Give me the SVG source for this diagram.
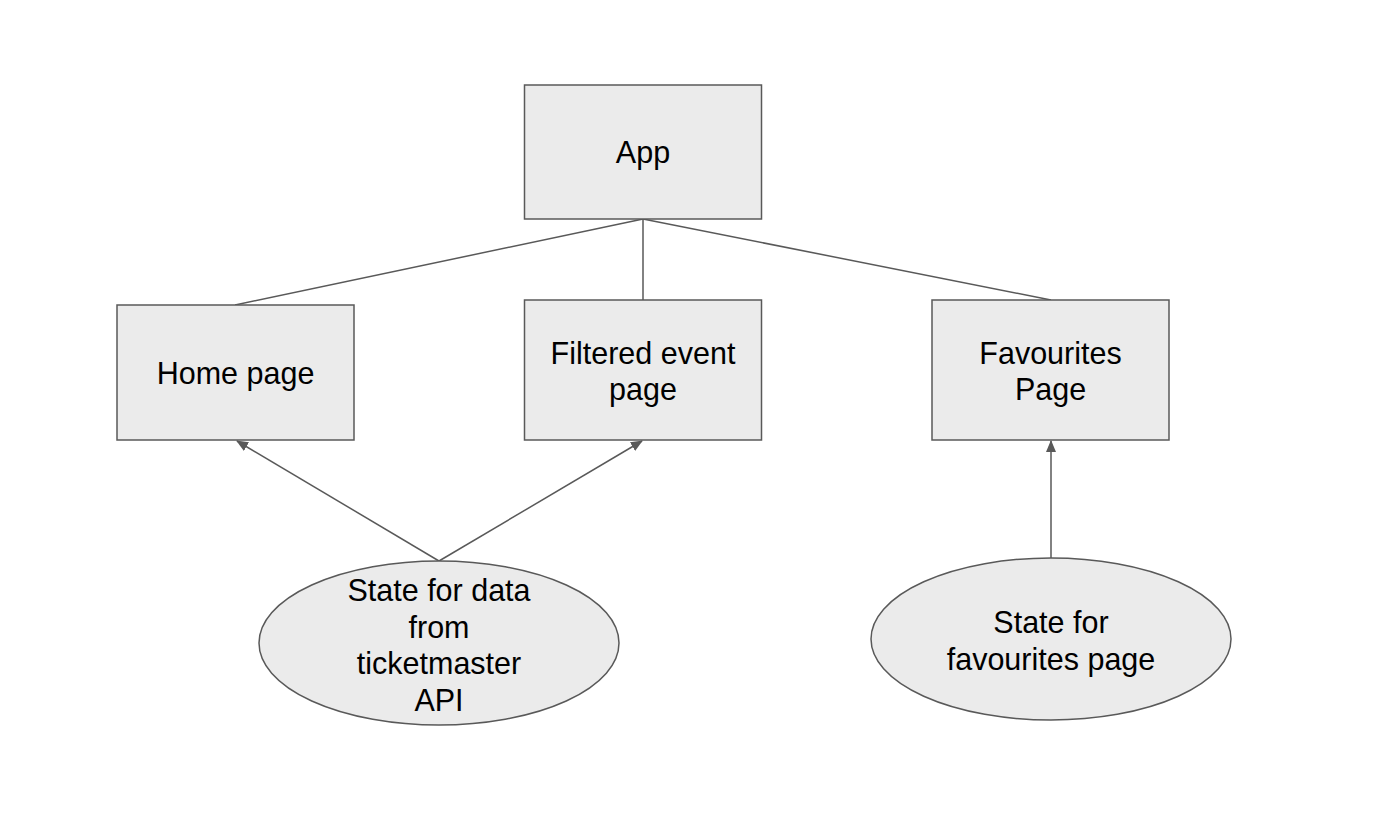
<svg xmlns="http://www.w3.org/2000/svg" width="1400" height="826" viewBox="0 0 1400 826">
<style>
.box{fill:#ebebeb;stroke:#595959;stroke-width:1.5}
.lbl{font-family:"Liberation Sans",Arial,sans-serif;font-size:30.5px;fill:#000;text-anchor:middle}
.edge{stroke:#595959;stroke-width:1.5;fill:none}
</style>
<defs>
<marker id="arr" viewBox="0 0 12 10" refX="11" refY="5" markerWidth="12" markerHeight="10" orient="auto" markerUnits="userSpaceOnUse">
<path d="M0,0 L12,5 L0,10 z" fill="#595959"/>
</marker>
</defs>
<rect width="1400" height="826" fill="#fff"/>
<g id="connectors">
<line class="edge" x1="643" y1="219" x2="235" y2="305"/>
<line class="edge" x1="643" y1="219" x2="643" y2="300"/>
<line class="edge" x1="643" y1="219" x2="1051" y2="300"/>
<line class="edge" x1="439" y1="561" x2="237" y2="441" marker-end="url(#arr)"/>
<line class="edge" x1="439" y1="561" x2="642" y2="441" marker-end="url(#arr)"/>
<line class="edge" x1="1051" y1="558" x2="1051" y2="441" marker-end="url(#arr)"/>
</g>
<g id="app">
<rect class="box" x="524.5" y="85" width="237" height="134"/>
<text class="lbl" x="643" y="163">App</text>
</g>
<g id="home">
<rect class="box" x="117" y="305" width="237" height="135"/>
<text class="lbl" x="235.5" y="384">Home page</text>
</g>
<g id="filtered">
<rect class="box" x="524.5" y="300" width="237" height="140"/>
<text class="lbl" x="643" y="364">Filtered event</text>
<text class="lbl" x="643" y="400">page</text>
</g>
<g id="favourites">
<rect class="box" x="932" y="300" width="237" height="140"/>
<text class="lbl" x="1050.5" y="364">Favourites</text>
<text class="lbl" x="1050.5" y="400">Page</text>
</g>
<g id="state-data">
<ellipse class="box" cx="439" cy="643" rx="180" ry="82"/>
<text class="lbl" x="439" y="601">State for data</text>
<text class="lbl" x="439" y="638">from</text>
<text class="lbl" x="439" y="674">ticketmaster</text>
<text class="lbl" x="439" y="711">API</text>
</g>
<g id="state-fav">
<ellipse class="box" cx="1051" cy="639" rx="180" ry="81"/>
<text class="lbl" x="1051" y="633">State for</text>
<text class="lbl" x="1051" y="670">favourites page</text>
</g>
</svg>
